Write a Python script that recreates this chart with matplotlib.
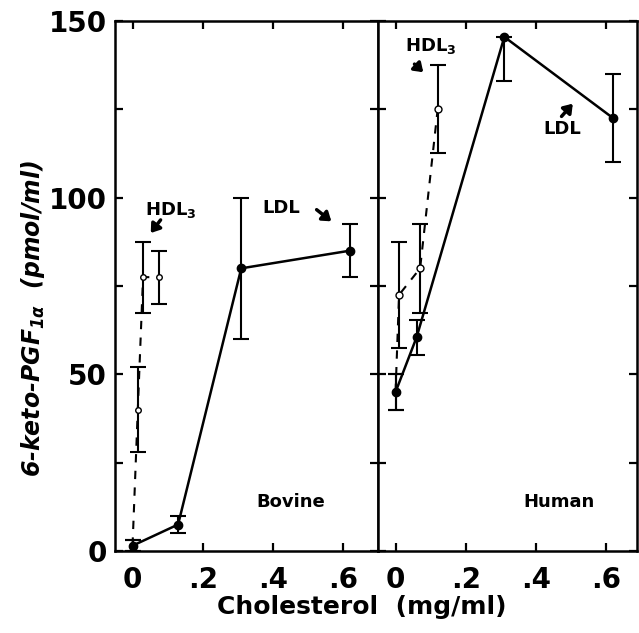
import matplotlib
matplotlib.use('Agg')
import matplotlib.pyplot as plt

plt.rcParams['font.family'] = ['DejaVu Sans']
plt.rcParams['font.weight'] = 'bold'
plt.rcParams['mathtext.fontset'] = 'custom'
plt.rcParams['mathtext.rm'] = 'DejaVu Sans:bold:italic'
plt.rcParams['mathtext.it'] = 'DejaVu Sans:bold:italic'
plt.rcParams['mathtext.bf'] = 'DejaVu Sans:bold'

# bovine panel
bov_ldl_x = [0.0, 0.13, 0.31, 0.62]
bov_ldl_y = [1.5, 7.5, 80, 85]
bov_ldl_err = [1.5, 2.5, 20, 7.5]

bov_hdl_x = [0.0, 0.015, 0.03, 0.075]
bov_hdl_y = [1.5, 40, 77.5, 77.5]
bov_hdl_err = [1.5, 12, 10, 7.5]

# human panel
hum_ldl_x = [0.0, 0.06, 0.31, 0.62]
hum_ldl_y = [45, 60.5, 145.5, 122.5]
hum_ldl_lo = [5, 5, 12.5, 12.5]
hum_ldl_hi = [5, 5, 0, 12.5]

hum_hdl_x = [0.0, 0.01, 0.07, 0.12]
hum_hdl_y = [45, 72.5, 80, 125]
hum_hdl_err = [5, 15, 12.5, 12.5]

xticks = [0, 0.2, 0.4, 0.6]
xticklabels = ['0', '.2', '.4', '.6']
yticks = [0, 25, 50, 75, 100, 125, 150]
yticklabels = ['0', '', '50', '', '100', '', '150']

fig = plt.figure(figsize=(6.39, 6.33), dpi=100)
ax1 = fig.add_axes([115 / 639, 82 / 633, 263 / 639, 530 / 633])
ax2 = fig.add_axes([378 / 639, 82 / 633, 259 / 639, 530 / 633])

for ax in (ax1, ax2):
    ax.set_ylim(0, 150)
    ax.set_xticks(xticks)
    ax.set_xticklabels(xticklabels)
    ax.set_yticks(yticks)
    ax.tick_params(direction='in', length=6, width=1.6, top=True, right=True,
                   labelsize=20, pad=11)
    ax.tick_params(axis='y', pad=6)
    for s in ax.spines.values():
        s.set_linewidth(1.8)

ax1.set_xlim(-0.05, 0.70)
ax2.set_xlim(-0.05, 0.688)
ax1.set_yticklabels(yticklabels)
ax2.set_yticklabels([])

eb = dict(color='k', capsize=6, capthick=1.5, elinewidth=1.5)

ax1.errorbar(bov_hdl_x, bov_hdl_y, yerr=bov_hdl_err, ls=(0, (4, 4)), lw=1.5,
             marker='o', ms=4, mfc='white', mec='k', **eb)
ax1.errorbar(bov_ldl_x, bov_ldl_y, yerr=bov_ldl_err, ls='-', lw=1.8,
             marker='o', ms=6, mfc='k', mec='k', **eb)

ax2.errorbar(hum_hdl_x, hum_hdl_y, yerr=hum_hdl_err, ls=(0, (4, 4)), lw=1.5,
             marker='o', ms=5, mfc='white', mec='k', **eb)
ax2.errorbar(hum_ldl_x, hum_ldl_y, yerr=[hum_ldl_lo, hum_ldl_hi], ls='-', lw=1.8,
             marker='o', ms=6, mfc='k', mec='k', **eb)

arrow = dict(arrowstyle='-|>,head_width=0.35,head_length=0.5', color='k', lw=2.5,
             shrinkA=0, shrinkB=0)

ax1.text(0.11, 96.5, r'HDL$_\mathbf{3}$', ha='center', va='center', fontsize=13)
ax1.annotate('', xy=(0.052, 90), xytext=(0.08, 93.7), arrowprops=arrow)
ax1.text(0.425, 97, 'LDL', ha='center', va='center', fontsize=13)
ax1.annotate('', xy=(0.567, 93.3), xytext=(0.525, 96.6), arrowprops=arrow)
ax1.text(0.45, 14, 'Bovine', ha='center', va='center', fontsize=13)

ax2.text(0.1, 143, r'HDL$_\mathbf{3}$', ha='center', va='center', fontsize=13)
ax2.annotate('', xy=(0.079, 135.5), xytext=(0.054, 137.8), arrowprops=arrow)
ax2.text(0.475, 119.5, 'LDL', ha='center', va='center', fontsize=13)
ax2.annotate('', xy=(0.505, 126.6), xytext=(0.473, 123), arrowprops=arrow)
ax2.text(0.467, 14, 'Human', ha='center', va='center', fontsize=13)

fig.text(362 / 639, 1 - 607 / 633, 'Cholesterol  (mg/ml)', ha='center', va='center',
         fontsize=18)
fig.text(33 / 639, 1 - 318 / 633, r'6-keto-PGF$_{1\alpha}$  (pmol/ml)', ha='center',
         va='center', rotation=90, fontsize=17, style='italic')

fig.savefig('out.png', dpi=100)
